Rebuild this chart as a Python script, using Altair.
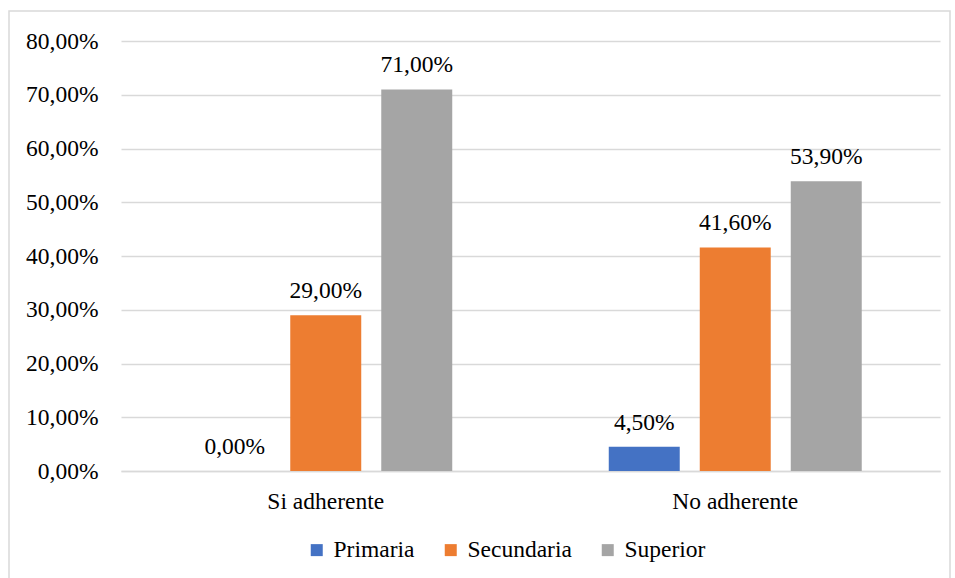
import altair as alt
import pandas as pd

# Education level by adherence group (percent)
groups = ["Si adherente", "No adherente"]
levels = ["Primaria", "Secundaria", "Superior"]
primaria = [0.0, 4.5]
secundaria = [29.0, 41.6]
superior = [71.0, 53.9]
y_ticks = [0, 10, 20, 30, 40, 50, 60, 70, 80]
colors = ["#4472C4", "#ED7D31", "#A5A5A5"]

rows = []
for i, g in enumerate(groups):
    for lvl, series in zip(levels, [primaria, secundaria, superior]):
        rows.append({"grupo": g, "nivel": lvl, "valor": series[i]})
df = pd.DataFrame(rows)

FONT = "Liberation Serif"
FS = 23.5

x_enc = alt.X(
    "grupo:N",
    sort=groups,
    title=None,
    scale=alt.Scale(paddingInner=0, paddingOuter=0),
    axis=alt.Axis(
        labelAngle=0,
        labelFontSize=FS,
        labelFont=FONT,
        labelPadding=18,
        domainColor="#d9d9d9",
        domainWidth=1.5,
        ticks=False,
        grid=False,
    ),
)
y_enc = alt.Y(
    "valor:Q",
    title=None,
    scale=alt.Scale(domain=[0, 80], nice=False),
    axis=alt.Axis(
        values=y_ticks,
        labelExpr="replace(format(datum.value, '.2f'), '.', ',') + '%'",
        labelFontSize=FS,
        labelFont=FONT,
        labelPadding=23,
        domain=False,
        ticks=False,
        gridColor="#d9d9d9",
        gridWidth=1.5,
    ),
)
offset_enc = alt.XOffset(
    "nivel:N",
    sort=levels,
    scale=alt.Scale(paddingInner=0.22, paddingOuter=0.86),
)

bars = alt.Chart(df).mark_bar().encode(
    x=x_enc,
    y=y_enc,
    xOffset=offset_enc,
    color=alt.Color(
        "nivel:N",
        sort=levels,
        scale=alt.Scale(domain=levels, range=colors),
        legend=alt.Legend(
            title=None,
            orient="none",
            direction="horizontal",
            legendX=184,
            legendY=497,
            symbolType="square",
            symbolSize=144,
            symbolStrokeWidth=0,
            labelFontSize=FS,
            labelFont=FONT,
            columnPadding=24,
            symbolOffset=0,
            labelOffset=5,
        ),
    ),
)

labels = alt.Chart(df).transform_calculate(
    etiqueta="replace(format(datum.valor, '.2f'), '.', ',') + '%'"
).mark_text(
    baseline="alphabetic", dy=-17, fontSize=FS, font=FONT
).encode(
    x=alt.X("grupo:N", sort=groups),
    y="valor:Q",
    xOffset=alt.XOffset("nivel:N", sort=levels),
    text="etiqueta:N",
)

# Outer frame around the whole figure
frame = alt.Chart(pd.DataFrame({"k": [0]})).mark_rect(
    fillOpacity=0, stroke="#d9d9d9", strokeWidth=1.5, clip=False
).encode(
    x=alt.value(-112),
    x2=alt.value(829),
    y=alt.value(-30),
    y2=alt.value(560),
)

chart = (
    alt.layer(bars, labels, frame)
    .properties(
        width=819,
        height=430,
        autosize=alt.AutoSizeParams(type="none"),
        padding={"left": 121, "top": 41, "right": 15, "bottom": 107},
    )
    .configure_view(strokeWidth=0)
)

chart.save("out.html", embed_options={"renderer": "svg", "actions": False})
